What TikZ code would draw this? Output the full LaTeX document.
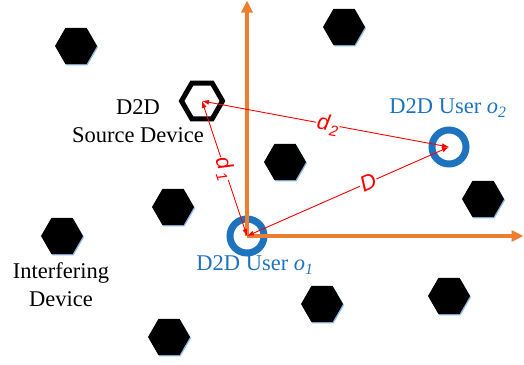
\documentclass[tikz,border=0pt]{standalone}
\usepackage{fontspec}
\setmainfont{Liberation Serif}
\newfontfamily\lblsans{Liberation Sans}
\usetikzlibrary{shapes.geometric,arrows.meta,shadows}
\definecolor{axisorange}{RGB}{237,125,49}
\definecolor{userblue}{RGB}{30,115,190}
\definecolor{shadowblue}{RGB}{140,185,225}
\definecolor{arrred}{RGB}{255,0,0}
\newcommand{\dsub}[1]{\kern1.2pt\raisebox{-0.4ex}{\fontsize{15}{15}\selectfont #1}}
\tikzset{
  hexnode/.style={regular polygon, regular polygon sides=6, minimum size=42pt, inner sep=0pt,
    fill=black, draw=none, drop shadow={fill=shadowblue, shadow xshift=1pt, shadow yshift=-1.2pt, opacity=1}},
  srcnode/.style={regular polygon, regular polygon sides=6, minimum size=41pt, inner sep=0pt,
    fill=white, draw=black, line width=5pt},
  usernode/.style={circle, minimum size=34pt, inner sep=0pt, draw=userblue, line width=7pt},
  axisline/.style={draw=axisorange, line width=3.5pt, -{Triangle[length=12pt,width=11pt]}},
  redarrow/.style={draw=arrred, line width=0.9pt, {Latex[length=7pt,width=5pt]}-{Latex[length=7pt,width=5pt]}},
  lbl/.style={font=\fontsize{22.5}{28}\selectfont, align=center, inner sep=0pt},
  userlbl/.style={font=\fontsize{22.5}{28}\selectfont, text=userblue, inner sep=0pt},
  dlbl/.style={font=\lblsans\itshape\fontsize{22}{24}\selectfont, text=arrred, fill=white, inner sep=1pt, sloped}
}
\begin{document}
\begin{tikzpicture}[x=1pt,y=-1pt]
\useasboundingbox (0,0) rectangle (524,364);
% interfering devices
\node[hexnode] (h1) at (76,46) {};
\node[hexnode] (h2) at (344,27) {};
\node[hexnode] (h3) at (285,162) {};
\node[hexnode] (h4) at (173,207) {};
\node[hexnode] (h5) at (483,199) {};
\node[hexnode] (h6) at (62,236) {};
\node[hexnode] (h7) at (322,304) {};
\node[hexnode] (h8) at (449,296) {};
\node[hexnode] (h9) at (169,337) {};
% source
\node[srcnode] (src) at (202,101) {};
% users
\node[usernode] (o1) at (247,236) {};
\node[usernode] (o2) at (449,147) {};
% axes
\coordinate (ytop) at (247,0.5);
\coordinate (xend) at (523.5,236);
\draw[axisline] (o1.center) -- (ytop);
\draw[axisline] (o1.center) -- (xend);
% labels
\node[lbl] (lsrc) at (138,121) {D2D\\Source Device};
\node[lbl] (lint) at (61,285) {Interfering\\Device};
\node[userlbl] (lo2) at (448,108) {D2D User \textit{o\textsubscript{2}}};
\node[userlbl] (lo1) at (255,265) {D2D User \textit{o\textsubscript{1}}};
% distances
\draw[redarrow] (src.center) -- node[dlbl, pos=0.51] {d\dsub{2}} (o2.center);
\draw[redarrow] (src.center) -- node[dlbl, pos=0.5] {d\dsub{1}} (o1.center);
\draw[redarrow] (o1.center) -- node[dlbl, pos=0.6] {D} (o2.center);
\end{tikzpicture}
\end{document}
